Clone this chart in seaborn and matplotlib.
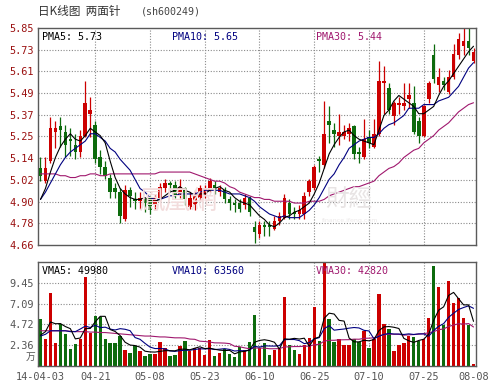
import numpy as np
import matplotlib
matplotlib.use("Agg")
import matplotlib.pyplot as plt
import seaborn as sns

# ---------------- data ----------------
date_labels = ["14-04-03", "04-21", "05-08", "05-23", "06-10", "06-25", "07-10", "07-25", "08-08"]
date_label_pos = [0, 11, 22, 33, 44, 55, 66, 77, 87]

open_ = [5.08,5.01,5.12,5.28,5.31,5.28,5.24,5.21,5.17,5.26,
         5.38,5.32,5.14,5.09,5.03,4.97,4.95,4.80,4.96,4.91,
         4.90,4.91,4.92,4.88,4.92,4.97,5.00,4.99,4.94,4.97,
         4.87,4.88,4.92,4.94,4.96,4.99,4.95,4.96,4.91,4.89,
         4.89,4.88,4.92,4.76,4.72,4.77,4.77,4.75,4.79,4.81,
         4.89,4.84,4.83,4.83,4.95,4.97,5.13,5.10,5.34,5.29,
         5.26,5.26,5.27,5.31,5.17,5.14,5.25,5.20,5.27,5.55,
         5.52,5.37,5.43,5.42,5.46,5.44,5.34,5.26,5.46,5.70,
         5.54,5.56,5.50,5.58,5.70,5.75,5.78,5.67]
close = [5.04,5.08,5.30,5.30,5.29,5.21,5.23,5.17,5.26,5.44,
         5.40,5.13,5.09,5.04,4.95,4.95,4.82,4.96,4.93,4.90,
         4.92,4.89,4.85,4.92,4.98,5.00,4.99,4.93,4.98,4.91,
         4.92,4.93,4.97,4.97,5.01,4.96,4.97,4.91,4.89,4.88,
         4.86,4.92,4.84,4.73,4.77,4.76,4.76,4.79,4.82,4.92,
         4.83,4.83,4.85,4.93,5.01,5.09,5.12,5.27,5.32,5.27,
         5.28,5.28,5.30,5.16,5.16,5.24,5.22,5.27,5.56,5.56,
         5.40,5.44,5.44,5.44,5.48,5.28,5.26,5.42,5.55,5.57,
         5.58,5.54,5.58,5.71,5.79,5.78,5.74,5.72]
high = [5.14,5.14,5.36,5.34,5.36,5.32,5.30,5.27,5.29,5.56,
        5.47,5.34,5.18,5.12,5.05,5.00,4.97,4.99,4.98,4.95,
        4.95,4.92,4.93,4.94,5.00,5.02,5.01,5.01,5.02,4.98,
        4.95,4.96,4.99,4.99,5.03,5.01,4.99,4.98,4.93,4.91,
        4.91,4.94,4.93,4.79,4.79,4.79,4.79,4.82,4.84,4.94,
        4.91,4.87,4.88,4.95,5.02,5.10,5.15,5.45,5.42,5.33,
        5.38,5.32,5.33,5.32,5.20,5.35,5.29,5.35,5.67,5.64,
        5.55,5.45,5.47,5.55,5.55,5.53,5.36,5.43,5.56,5.76,
        5.63,5.58,5.62,5.76,5.82,5.85,5.85,5.74]
low = [5.01,5.00,5.11,5.19,5.20,5.14,5.15,5.13,5.14,5.25,
       5.25,5.11,5.05,5.02,4.92,4.92,4.78,4.79,4.87,4.86,
       4.86,4.84,4.83,4.86,4.90,4.95,4.96,4.92,4.92,4.88,
       4.86,4.85,4.90,4.92,4.95,4.94,4.93,4.89,4.85,4.84,
       4.84,4.86,4.82,4.67,4.70,4.71,4.71,4.74,4.77,4.80,
       4.80,4.80,4.80,4.80,4.93,4.96,5.06,5.08,5.22,5.20,
       5.21,5.24,5.23,5.13,5.11,5.13,5.19,5.19,5.26,5.38,
       5.38,5.32,5.38,5.40,5.41,5.27,5.22,5.25,5.44,5.55,
       5.50,5.51,5.49,5.57,5.68,5.70,5.70,5.66]
volume = [5.3,3.1,8.3,2.6,4.8,3.6,1.9,2.5,3.1,10.1,
          3.7,5.7,5.6,3.1,2.6,2.6,3.4,1.8,1.5,2.3,
          1.7,1.1,1.4,1.4,2.7,2.1,1.1,1.3,2.3,2.8,
          1.7,2.0,2.1,1.3,3.0,1.1,1.5,1.9,1.4,1.0,
          2.2,1.8,2.7,5.8,2.0,2.6,1.3,1.8,1.9,7.8,
          2.4,1.8,1.4,2.4,3.2,6.7,2.8,12.0,5.3,2.7,
          3.1,2.4,2.4,3.1,2.7,4.0,2.1,3.1,8.2,4.8,
          4.2,1.7,2.4,2.6,3.4,3.3,2.8,3.1,5.5,11.3,
          9.0,4.7,9.6,7.2,7.7,5.5,4.7,0.25]
ma5 = [4.91,4.97,5.06,5.14,5.20,5.24,5.27,5.24,5.23,5.26,
       5.30,5.28,5.26,5.22,5.12,5.03,4.97,4.94,4.92,4.91,
       4.91,4.92,4.90,4.90,4.91,4.93,4.95,4.96,4.98,4.96,
       4.95,4.93,4.94,4.94,4.96,4.97,4.98,4.96,4.95,4.92,
       4.90,4.89,4.88,4.85,4.82,4.80,4.77,4.76,4.78,4.81,
       4.82,4.84,4.85,4.87,4.89,4.94,5.00,5.08,5.16,5.21,
       5.25,5.28,5.29,5.26,5.24,5.23,5.22,5.21,5.29,5.37,
       5.40,5.45,5.48,5.46,5.44,5.42,5.38,5.38,5.40,5.42,
       5.48,5.53,5.56,5.60,5.64,5.68,5.72,5.75]
ma10 = [4.91,4.95,5.00,5.05,5.10,5.14,5.17,5.19,5.21,5.23,
        5.27,5.27,5.25,5.23,5.19,5.17,5.13,5.10,5.07,5.02,
        4.97,4.95,4.92,4.91,4.91,4.92,4.93,4.93,4.94,4.94,
        4.94,4.94,4.95,4.96,4.96,4.96,4.96,4.95,4.94,4.94,
        4.94,4.93,4.92,4.90,4.87,4.85,4.83,4.82,4.81,4.82,
        4.81,4.81,4.81,4.83,4.85,4.88,4.92,4.97,5.02,5.05,
        5.10,5.14,5.19,5.21,5.23,5.24,5.25,5.25,5.27,5.30,
        5.32,5.33,5.35,5.37,5.41,5.41,5.41,5.43,5.43,5.43,
        5.45,5.46,5.47,5.50,5.53,5.58,5.63,5.66]
ma30 = [5.05,5.05,5.05,5.05,5.04,5.04,5.03,5.03,5.04,5.04,
        5.05,5.05,5.04,5.04,5.05,5.05,5.05,5.05,5.05,5.05,
        5.05,5.05,5.05,5.05,5.06,5.06,5.06,5.06,5.06,5.06,
        5.06,5.05,5.04,5.03,5.02,5.01,5.01,5.00,4.98,4.97,
        4.95,4.94,4.93,4.92,4.92,4.91,4.91,4.90,4.90,4.90,
        4.90,4.89,4.89,4.89,4.90,4.90,4.90,4.91,4.93,4.94,
        4.95,4.96,4.97,4.98,4.98,4.99,5.00,5.01,5.04,5.06,
        5.08,5.09,5.11,5.14,5.16,5.18,5.19,5.22,5.24,5.26,
        5.29,5.31,5.33,5.36,5.39,5.41,5.43,5.44]
vma5 = [3.5,3.9,5.0,4.8,4.82,4.48,4.24,3.08,3.18,4.24,
        4.26,5.02,5.64,5.64,4.14,3.92,3.46,2.70,2.38,2.32,
        2.14,1.68,1.60,1.58,1.66,1.74,1.74,1.72,1.90,1.92,
        1.84,2.02,2.18,1.98,2.02,1.90,1.80,1.76,1.78,1.38,
        1.60,1.66,1.82,2.70,2.90,2.98,2.88,2.70,1.92,3.08,
        3.04,3.14,3.06,3.16,2.24,3.10,3.30,5.42,6.00,5.90,
        5.18,5.10,3.18,2.74,2.74,2.92,2.86,3.00,4.02,4.44,
        4.48,4.40,4.26,3.14,2.86,2.68,2.90,3.04,3.62,5.20,
        6.34,6.72,8.02,8.36,7.64,6.94,6.94,5.07]
vma10 = [3.4,3.6,4.0,4.0,4.0,4.0,3.9,3.9,4.2,4.53,
         4.37,4.63,4.36,4.41,4.19,4.09,4.24,4.17,4.01,3.23,
         3.03,2.57,2.15,1.98,1.99,1.94,1.71,1.66,1.74,1.79,
         1.79,1.88,1.95,1.94,1.97,1.87,1.91,1.97,1.88,1.70,
         1.75,1.73,1.79,2.24,2.14,2.29,2.27,2.26,2.31,2.99,
         3.01,3.01,2.88,2.54,2.66,3.07,3.22,4.24,4.58,4.07,
         4.14,4.20,4.30,4.37,4.32,4.05,3.98,3.09,3.38,3.59,
         3.70,3.63,3.63,3.58,3.65,3.58,3.65,3.65,3.38,4.03,
         4.51,4.81,5.53,5.99,6.42,6.64,6.83,6.55]
vma30 = [4.0,4.0,4.0,4.0,4.0,4.0,3.95,3.9,3.9,3.9,
         3.85,3.85,3.8,3.8,3.75,3.7,3.65,3.6,3.55,3.5,
         3.45,3.4,3.4,3.35,3.3,3.3,3.25,3.2,3.2,3.18,
         3.06,3.03,2.82,2.78,2.72,2.63,2.62,2.60,2.54,2.24,
         2.19,2.06,1.96,2.05,2.03,2.03,1.96,1.96,1.98,2.16,
         2.18,2.21,2.21,2.24,2.26,2.41,2.47,2.82,2.92,2.92,
         2.97,2.98,2.99,3.05,3.04,3.14,3.16,3.20,3.42,3.55,
         3.62,3.61,3.60,3.50,3.54,3.57,3.62,3.66,3.78,3.90,
         4.12,4.21,4.49,4.65,4.80,4.76,4.82,4.43]

price_ticks = [4.66, 4.779, 4.898, 5.017, 5.136, 5.255, 5.374, 5.493, 5.612, 5.731, 5.85]
price_tick_labels = ["4.66", "4.78", "4.90", "5.02", "5.14", "5.25", "5.37", "5.49", "5.61", "5.73", "5.85"]
vol_ticks = [2.362, 4.724, 7.086, 9.448]
vol_tick_labels = ["2.36", "4.72", "7.09", "9.45"]
vol_top = 11.81

title_text = "日K线图  两面针"
code_text = "(sh600249)"
pma_texts = ["PMA5: 5.73", "PMA10: 5.65", "PMA30: 5.44"]
vma_texts = ["VMA5: 49980", "VMA10: 63560", "VMA30: 42820"]

# ---------------- style ----------------
sns.set_style("white")
plt.rcParams["font.family"] = ["DejaVu Sans Mono", "Noto Sans CJK SC"]

RED = "#cc0000"
GREEN = "#0d6b0d"
C_MA5 = "#000000"
C_MA10 = "#000080"
C_MA30 = "#a0186e"
GRID = "#8a8a8a"
FRAME = "#5a5a5a"

W, H = 498, 389
fig = plt.figure(figsize=(W / 100, H / 100), dpi=100)
fig.patch.set_facecolor("white")

def axrect(x0, y0, x1, y1):
    return [x0 / W, 1 - y1 / H, (x1 - x0) / W, (y1 - y0) / H]

ax1 = fig.add_axes(axrect(38, 28, 476, 245))
ax2 = fig.add_axes(axrect(38, 262, 476, 366))

n = len(close)
idx = np.arange(n)
o = np.array(open_); c = np.array(close); hi = np.array(high); lo = np.array(low)
up = c >= o
colors = [RED if u else GREEN for u in up]

xlim = (-0.5, n - 0.5)

for ax in (ax1, ax2):
    ax.set_facecolor("white")
    ax.set_xlim(*xlim)
    for s in ax.spines.values():
        s.set_color(FRAME)
        s.set_linewidth(1.0)
    ax.tick_params(length=0)
    for g in date_label_pos[1:-1]:
        ax.axvline(g, color=GRID, lw=0.8, ls=(0, (1, 1.5)), zorder=0.5)

# watermark
fig.text(138 / W, 1 - 201 / H, "鳳凰網", fontsize=19, color="#f2dcdc", family="Noto Sans CJK TC",
         va="center", ha="left", zorder=0)
fig.text(325 / W, 1 - 199 / H, "財經", fontsize=17, color="#e8e4e4", family="Noto Sans CJK TC",
         va="center", ha="left", zorder=0)
fig.text(322 / W, 1 - 221 / H, "finance.ifeng.com", fontsize=4.5, color="#ebe8e8",
         family="DejaVu Sans", va="center", ha="left", zorder=0)
ax1.patch.set_alpha(0)

# ---------------- price panel ----------------
ax1.set_ylim(price_ticks[0], price_ticks[-1])
for t in price_ticks[1:-1]:
    ax1.axhline(t, color=GRID, lw=0.8, ls=(0, (1, 1.5)), zorder=0.5)
ax1.vlines(idx, lo, hi, colors=colors, lw=0.9, zorder=2)
body_h = np.maximum(np.abs(c - o), 0.006)
body_b = np.minimum(o, c)
ax1.bar(idx, body_h, bottom=body_b, width=0.72, color=colors, linewidth=0, zorder=3)

sns.lineplot(x=idx, y=ma30, ax=ax1, color=C_MA30, lw=0.8, zorder=4, legend=False)
sns.lineplot(x=idx, y=ma10, ax=ax1, color=C_MA10, lw=0.8, zorder=5, legend=False)
sns.lineplot(x=idx, y=ma5, ax=ax1, color=C_MA5, lw=0.8, zorder=6, legend=False)

ax1.set_yticks(price_ticks)
ax1.set_yticklabels(price_tick_labels, fontsize=7.4, color="#9a1010")
ax1.tick_params(axis="y", pad=3)
ax1.set_xticks([])
ax1.set_xlabel(""); ax1.set_ylabel("")

tx = [42, 172, 316]
for t, col, x in zip(pma_texts, [C_MA5, C_MA10, C_MA30], tx):
    fig.text(x / W, 1 - 37 / H, t, fontsize=7.2, color=col, va="center", ha="left")

# ---------------- volume panel ----------------
ax2.set_ylim(0, vol_top)
for t in vol_ticks:
    ax2.axhline(t, color=GRID, lw=0.8, ls=(0, (1, 1.5)), zorder=0.5)
ax2.bar(idx, volume, width=0.68, color=colors, linewidth=0, zorder=2)
sns.lineplot(x=idx, y=vma30, ax=ax2, color=C_MA30, lw=0.8, zorder=4, legend=False)
sns.lineplot(x=idx, y=vma10, ax=ax2, color=C_MA10, lw=0.8, zorder=5, legend=False)
sns.lineplot(x=idx, y=vma5, ax=ax2, color=C_MA5, lw=0.8, zorder=6, legend=False)

ax2.set_yticks(vol_ticks)
ax2.set_yticklabels(vol_tick_labels, fontsize=7.4, color="#555555")
ax2.tick_params(axis="y", pad=3)
ax2.set_xticks(date_label_pos)
ax2.set_xticklabels(date_labels, fontsize=7.4, color="#555555")
ax2.tick_params(axis="x", pad=4)
ax2.set_xlabel(""); ax2.set_ylabel("")
fig.text(35 / W, 1 - 357 / H, "万", fontsize=7, color="#555555", family="Noto Sans CJK SC",
         va="center", ha="right")

for t, col, x in zip(vma_texts, [C_MA5, C_MA10, C_MA30], tx):
    fig.text(x / W, 1 - 271 / H, t, fontsize=7.2, color=col, va="center", ha="left")

# ---------------- title ----------------
fig.text(38 / W, 1 - 12 / H, title_text, fontsize=8.4, color="#333333", family="Noto Sans CJK SC",
         va="center", ha="left")
fig.text(141 / W, 1 - 12 / H, code_text, fontsize=7.2, color="#444444", va="center", ha="left")

fig.savefig("out.png", dpi=100, facecolor="white")
